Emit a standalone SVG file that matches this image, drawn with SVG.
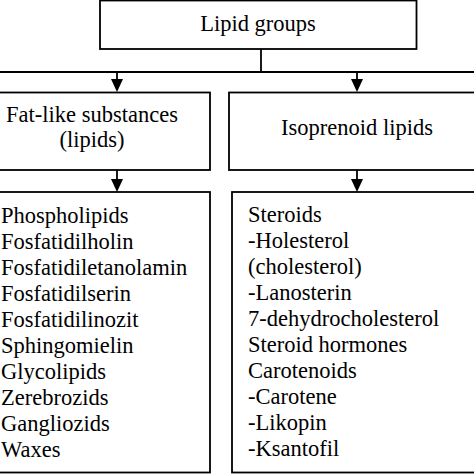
<svg xmlns="http://www.w3.org/2000/svg" width="474" height="474" viewBox="0 0 474 474">
<defs>
<style>
.box{fill:#fff;stroke:#000;stroke-width:1.8}
.ln{fill:none;stroke:#000;stroke-width:1.8}
.ah{fill:#000}
.t{font-family:'Liberation Serif','Times New Roman','DejaVu Serif',serif;font-size:22.5px;fill:#000}
.c{text-anchor:middle}
</style>
</defs>
<rect width="474" height="474" fill="#fff"/>
<g id="connectors">
<line class="ln" x1="261" y1="49" x2="261" y2="72"/>
<line class="ln" x1="-5" y1="72" x2="480" y2="72"/>
<line class="ln" x1="117" y1="72" x2="117" y2="80"/>
<polygon class="ah" points="111,79 123,79 117,92"/>
<line class="ln" x1="357" y1="72" x2="357" y2="80"/>
<polygon class="ah" points="351,79 363,79 357,92"/>
<line class="ln" x1="117" y1="170" x2="117" y2="180"/>
<polygon class="ah" points="111,179 123,179 117,192"/>
<line class="ln" x1="357" y1="170" x2="357" y2="180"/>
<polygon class="ah" points="351,179 363,179 357,192"/>
</g>
<g id="lipid-groups">
<rect class="box" x="100" y="0.5" width="316.5" height="48.5"/>
<text class="t c" x="258" y="31" font-family="Liberation Serif, serif">Lipid groups</text>
</g>
<g id="fat-like">
<rect class="box" x="-10" y="92.5" width="220" height="77.5"/>
<text class="t c" x="92" y="121.5">Fat-like substances</text>
<text class="t c" x="92" y="146.5">(lipids)</text>
</g>
<g id="isoprenoid">
<rect class="box" x="229" y="92.5" width="255" height="77.5"/>
<text class="t c" x="357" y="134.5">Isoprenoid lipids</text>
</g>
<g id="fat-like-list">
<rect class="box" x="-10" y="192" width="220" height="280.5"/>
<text class="t" x="1" y="222.5">Phospholipids</text>
<text class="t" x="1" y="248.5">Fosfatidilholin</text>
<text class="t" x="1" y="274.5">Fosfatidiletanolamin</text>
<text class="t" x="1" y="300.5">Fosfatidilserin</text>
<text class="t" x="1" y="326.5">Fosfatidilinozit</text>
<text class="t" x="1" y="352.5">Sphingomielin</text>
<text class="t" x="1" y="378.5">Glycolipids</text>
<text class="t" x="1" y="404.5">Zerebrozids</text>
<text class="t" x="1" y="430.5">Gangliozids</text>
<text class="t" x="1" y="456.5">Waxes</text>
</g>
<g id="isoprenoid-list">
<rect class="box" x="232" y="192" width="252" height="280.5"/>
<text class="t" x="248" y="222">Steroids</text>
<text class="t" x="248" y="248">-Holesterol</text>
<text class="t" x="248" y="274">(cholesterol)</text>
<text class="t" x="248" y="300">-Lanosterin</text>
<text class="t" x="248" y="326">7-dehydrocholesterol</text>
<text class="t" x="248" y="352">Steroid hormones</text>
<text class="t" x="248" y="378">Carotenoids</text>
<text class="t" x="248" y="404">-Carotene</text>
<text class="t" x="248" y="430">-Likopin</text>
<text class="t" x="248" y="456">-Ksantofil</text>
</g>
</svg>
